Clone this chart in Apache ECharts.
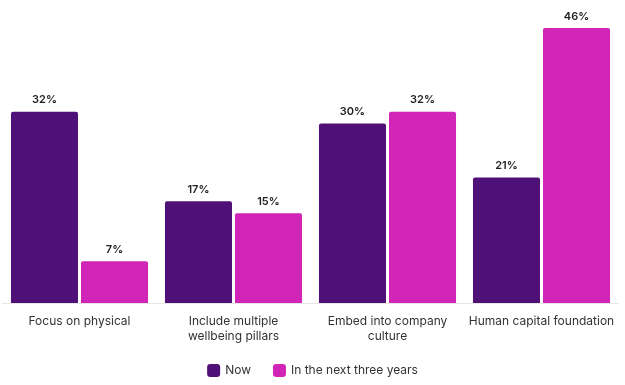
<!DOCTYPE html>
<html><head><meta charset="utf-8">
<script src="https://cdn.jsdelivr.net/npm/echarts@6/dist/echarts.min.js"></script>
<style>html,body{margin:0;padding:0;background:#fff}#c{width:625px;height:385px}</style>
</head><body><div id="c"></div>
<script>
const categories = ['Focus on physical', 'Include multiple\nwellbeing pillars', 'Embed into company\nculture', 'Human capital foundation'];
const nowValues = [32, 17, 30, 21];
const nextValues = [7, 15, 32, 46];
const seriesNames = ['Now', 'In the next three years'];

const chart = echarts.init(document.getElementById('c'));
const labelStyle = {show: true, position: 'top', distance: 6, formatter: '{c}%', color: '#222', fontSize: 11, fontWeight: 600, fontFamily: 'Inter'};
chart.setOption({
  animation: false,
  grid: {left: 2.5, right: 6.5, top: 4, bottom: 82},
  legend: {
    bottom: 3, left: 'center', itemWidth: 13, itemHeight: 13, itemGap: 22,
    icon: 'roundRect',
    textStyle: {color: '#333', fontSize: 12, fontFamily: 'Inter'},
    data: seriesNames
  },
  xAxis: {
    type: 'category', data: categories,
    axisLine: {lineStyle: {color: '#e6e6e6'}},
    axisTick: {show: false},
    axisLabel: {color: '#333', fontSize: 12, fontFamily: 'Inter', lineHeight: 15, margin: 11, interval: 0}
  },
  yAxis: {type: 'value', min: 0, max: 50, show: false, splitLine: {show: false}},
  series: [
    {name: seriesNames[0], type: 'bar', data: nowValues, barGap: '4.5%', barCategoryGap: '11%',
     itemStyle: {color: '#4f1178', borderRadius: [2, 2, 0, 0]}, label: labelStyle},
    {name: seriesNames[1], type: 'bar', data: nextValues,
     itemStyle: {color: '#d125b7', borderRadius: [2, 2, 0, 0]}, label: labelStyle}
  ]
});
</script></body></html>
